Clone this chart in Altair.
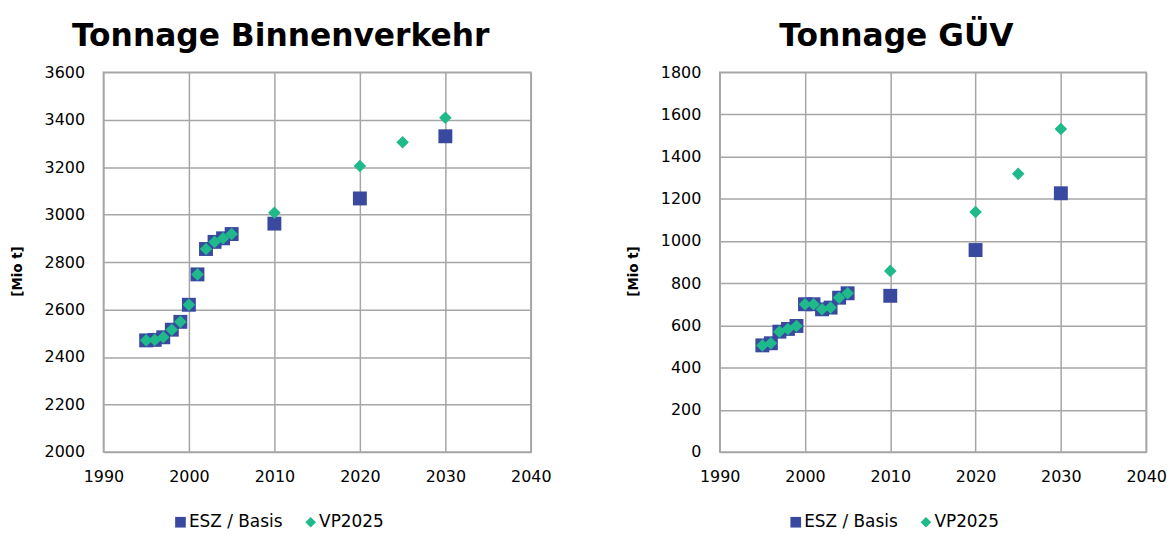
import altair as alt
import pandas as pd

series = ["ESZ / Basis", "VP2025"]
colors = ["#3A49A0", "#1FB98B"]
shapes = ["square", "diamond"]

years_esz = [1995, 1996, 1997, 1998, 1999, 2000, 2001, 2002, 2003, 2004, 2005, 2010, 2020, 2030]
years_vp = [1995, 1996, 1997, 1998, 1999, 2000, 2001, 2002, 2003, 2004, 2005, 2010, 2020, 2025, 2030]

binnen_esz = [2470, 2472, 2483, 2515, 2548, 2620, 2748, 2855, 2885, 2900, 2918, 2962, 3068, 3330]
binnen_vp = [2470, 2472, 2483, 2515, 2548, 2620, 2748, 2855, 2885, 2900, 2918, 3008, 3205, 3305, 3408]

guv_esz = [505, 515, 570, 583, 597, 700, 700, 676, 684, 731, 752, 740, 957, 1226]
guv_vp = [505, 515, 570, 583, 597, 700, 700, 676, 684, 731, 752, 858, 1137, 1318, 1531]

x_ticks = [1990, 2000, 2010, 2020, 2030, 2040]
binnen_ticks = list(range(2000, 3601, 200))
guv_ticks = list(range(0, 1801, 200))

FONT = "DejaVu Sans"
GRID = "#A6A6A6"


def panel(title, esz, vp, yticks, lx, ly, w):
    df_esz = pd.DataFrame({"Jahr": years_esz, "Wert": esz, "Reihe": series[0]})
    df_vp = pd.DataFrame({"Jahr": years_vp, "Wert": vp, "Reihe": series[1]})
    leg = alt.Legend(
        title=None, orient="none", legendX=lx, legendY=ly, direction="horizontal",
        labelFontSize=17, labelFont=FONT, labelColor="black", symbolSize=115,
        labelOffset=0, columnPadding=19, padding=0, symbolStrokeWidth=0,
    )
    x = alt.X("Jahr:Q", scale=alt.Scale(domain=[1990, 2040], nice=False),
              axis=alt.Axis(values=x_ticks, title=None, format="d", labelPadding=17))
    y = alt.Y("Wert:Q", scale=alt.Scale(domain=[yticks[0], yticks[-1]], nice=False),
              axis=alt.Axis(values=yticks, title="[Mio t]", titleFontSize=13.5,
                            titleFontWeight="bold", titlePadding=20, labelPadding=19,
                            titleY=200, format="d"))
    color = alt.Color("Reihe:N", scale=alt.Scale(domain=series, range=colors), legend=leg)
    shape = alt.Shape("Reihe:N", scale=alt.Scale(domain=series, range=shapes), legend=leg)
    l1 = alt.Chart(df_esz).mark_point(filled=True, opacity=1, size=196).encode(
        x=x, y=y, color=color, shape=shape)
    l2 = alt.Chart(df_vp).mark_point(filled=True, opacity=1, size=160).encode(
        x=x, y=y, color=color, shape=shape)
    return alt.layer(l1, l2).properties(
        width=w, height=382,
        title=alt.TitleParams(title, fontSize=31.5, font=FONT, fontWeight="bold",
                              anchor="middle", frame="bounds", offset=12, color="black"),
    )


left = panel("Tonnage Binnenverkehr", binnen_esz, binnen_vp, binnen_ticks, 69, 444, 430)
right = panel("Tonnage GÜV", guv_esz, guv_vp, guv_ticks, 68, 444, 429)

chart = alt.hconcat(left, right, spacing=73).resolve_scale(
    color="independent", shape="independent", x="independent", y="independent"
).resolve_legend(color="independent", shape="independent").properties(
    padding={"left": 1, "top": 10, "right": 0, "bottom": 0}
).configure_view(
    stroke=GRID, strokeWidth=1.5
).configure_axis(
    labelFont=FONT, labelFontSize=16, labelColor="black", titleFont=FONT,
    titleColor="black", ticks=False, domain=False, grid=True, gridColor=GRID,
    gridWidth=1.5, labelFlush=False, labelOverlap=False,
)

chart.save("out.html", embed_options={"renderer": "svg", "actions": False})
